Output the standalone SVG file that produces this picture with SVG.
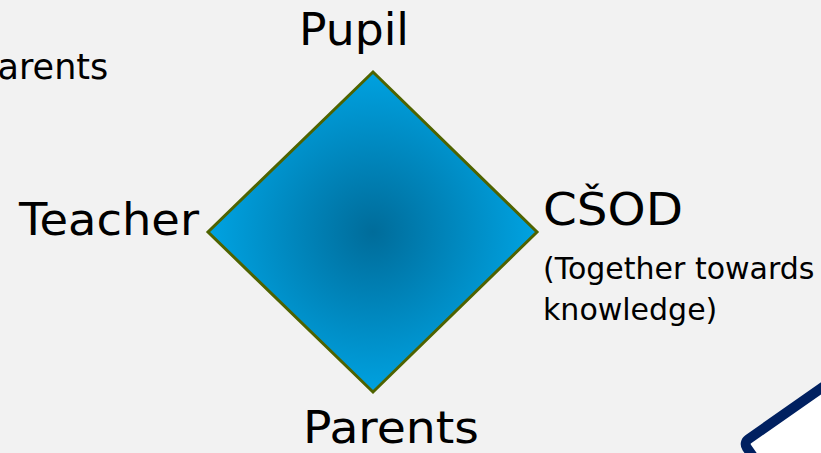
<svg xmlns="http://www.w3.org/2000/svg" width="821" height="453" viewBox="0 0 821 453">
<defs>
<radialGradient id="g" gradientUnits="userSpaceOnUse" cx="373" cy="232" r="165">
<stop offset="0" stop-color="#006c9a"/>
<stop offset="1" stop-color="#00a3e2"/>
</radialGradient>
<style>
.big{font-family:"DejaVu Sans",Verdana,sans-serif;font-size:45px;fill:#000}
.small{font-family:"DejaVu Sans",Verdana,sans-serif;font-size:30px;fill:#000}
</style>
</defs>
<rect width="821" height="453" fill="#f2f2f2"/>
<g id="corner-shape">
<rect x="355" y="789" width="400" height="300" rx="6" transform="rotate(-35)" fill="#ffffff" stroke="#002060" stroke-width="10"/>
</g>
<g id="parents-top-left">
<text class="big" x="-22" y="79" style="font-size:35px">Parents</text>
</g>
<g id="diamond">
<polygon points="373,72 537,232 373,392 208,232" fill="url(#g)" stroke="#4f6300" stroke-width="3"/>
</g>
<g id="pupil"><text class="big" x="299" y="45" textLength="110" lengthAdjust="spacingAndGlyphs">Pupil</text></g>
<g id="teacher"><text class="big" x="19" y="235" textLength="180" lengthAdjust="spacingAndGlyphs">Teacher</text></g>
<g id="parents"><text class="big" x="303" y="443" textLength="176" lengthAdjust="spacingAndGlyphs">Parents</text></g>
<g id="csod">
<text class="big" x="543" y="225" textLength="140" lengthAdjust="spacingAndGlyphs">CŠOD</text>
<text class="small" x="543" y="279">(Together towards</text>
<text class="small" x="543" y="320">knowledge)</text>
</g>
<g id="connectors"></g>
</svg>
